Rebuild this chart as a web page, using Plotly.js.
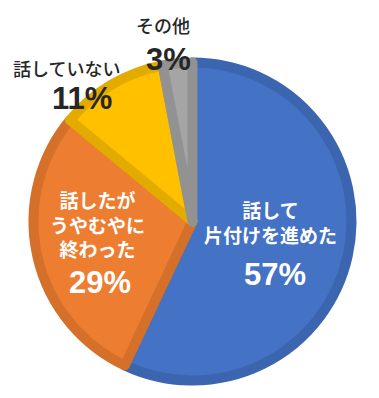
<!DOCTYPE html>
<html>
<head>
<meta charset="utf-8">
<script src="https://cdn.plot.ly/plotly-3.0.1.min.js"></script>
<style>html,body{margin:0;padding:0;background:#fff;}#chart{width:379px;height:398px;}</style>
</head>
<body>
<div id="chart"></div>
<script>
const labels = ["話して\n片付けを進めた", "話したが\nうやむやに\n終わった", "話していない", "その他"];
const values = [57, 29, 11, 3];
const colors = ["#4472C4", "#ED7D31", "#FFC000", "#A5A5A5"];
const borderColors = ["#3C65AF", "#D5702B", "#E3AB00", "#929292"];

const W = 379, H = 398;
const total = values.reduce((a, b) => a + b, 0);
const pct = values.map(v => Math.round(v / total * 100) + "%");

// label placement (pixels) and styles
const pos = [
  {lx: 270, ly: 222, px: 274.5, py: 274, inside: true},
  {lx: 97, ly: 224, px: 99.5, py: 282, inside: true},
  {lx: 66, ly: 68, px: 82, py: 98, inside: false},
  {lx: 163, ly: 25, px: 168, py: 59, inside: false}
];
const fam = "'Noto Sans CJK JP', 'Noto Sans', sans-serif";
const numFam = "'Liberation Sans', Arial, sans-serif";
const annotations = [];
labels.forEach((l, i) => {
  const p = pos[i];
  const col = p.inside ? "#ffffff" : "#262626";
  annotations.push({
    text: l.split("\n").join("<br>"), x: p.lx / W, y: 1 - p.ly / H, xref: "paper", yref: "paper",
    showarrow: false, xanchor: "center", yanchor: "middle", align: "center", borderpad: 0,
    font: {family: fam, size: p.inside ? 19 : 18, color: col, weight: p.inside ? 700 : 500}
  });
  annotations.push({
    text: "<b>" + pct[i] + "</b>", x: p.px / W, y: 1 - p.py / H, xref: "paper", yref: "paper",
    showarrow: false, xanchor: "center", yanchor: "middle", borderpad: 0,
    font: {family: numFam, size: 31, color: col}
  });
});

const cx = 192.5, cy = 221.5, r = 159;
const trace = {
  type: "pie",
  labels: labels,
  values: values,
  sort: false,
  direction: "clockwise",
  rotation: 0,
  textinfo: "none",
  hoverinfo: "none",
  marker: {colors: colors, line: {color: borderColors, width: 10}},
  domain: {x: [(cx - r) / W, (cx + r) / W], y: [1 - (cy + r) / H, 1 - (cy - r) / H]},
  showlegend: false
};

Plotly.newPlot("chart", [trace], {
  width: W, height: H,
  margin: {l: 0, r: 0, t: 0, b: 0},
  paper_bgcolor: "#ffffff",
  showlegend: false,
  annotations: annotations
}, {displayModeBar: false, staticPlot: true});
</script>
</body>
</html>
